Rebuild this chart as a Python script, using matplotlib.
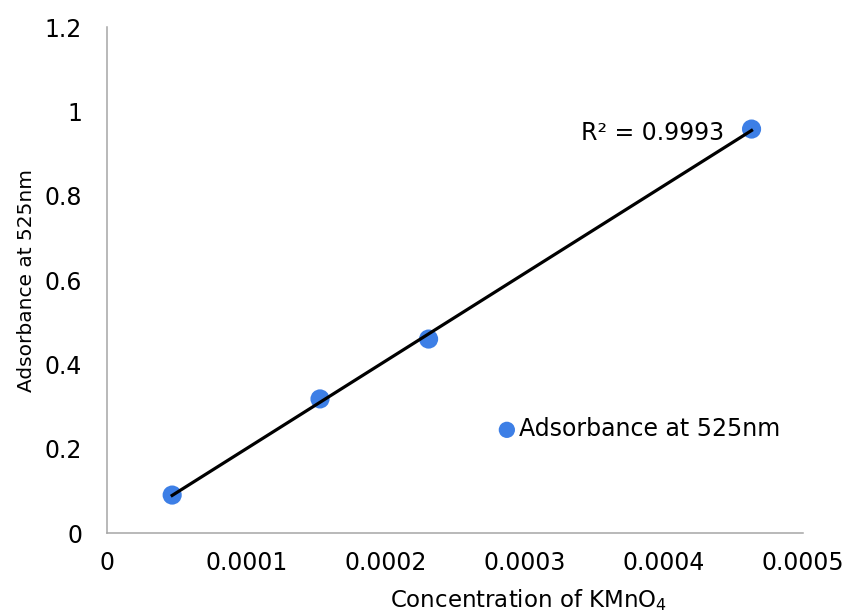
import numpy as np
import matplotlib.pyplot as plt

plt.rcParams['font.family'] = ['DejaVu Sans']

# data
conc = [0.0000468, 0.000153, 0.000231, 0.000463]
absorb = [0.090, 0.318, 0.460, 0.958]
r2_label = "R² = 0.9993"
series_name = "Adsorbance at 525nm"
x_ticks = [0, 0.0001, 0.0002, 0.0003, 0.0004, 0.0005]
x_labels = ["0", "0.0001", "0.0002", "0.0003", "0.0004", "0.0005"]
y_ticks = [0, 0.2, 0.4, 0.6, 0.8, 1.0, 1.2]
y_labels = ["0", "0.2", "0.4", "0.6", "0.8", "1", "1.2"]

fig = plt.figure(figsize=(8.48, 6.14), dpi=100)
ax = fig.add_axes([0.1262, 0.1319, 0.8208, 0.8241])

ax.scatter(conc, absorb, s=190, color="#3d7fe6", zorder=2,
           label=series_name, edgecolors="none")

# linear trendline over the data range
slope, icpt = np.polyfit(conc, absorb, 1)
xs = np.array([conc[0], conc[-1]])
ax.plot(xs, slope * xs + icpt, color="black", linewidth=2.3, zorder=3)

ax.text(conc[-1] - 0.0000194, absorb[-1] - 0.009, r2_label,
        ha="right", va="center", fontsize=17)

ax.set_xlim(0, 0.0005)
ax.set_ylim(0, 1.2)
ax.set_xticks(x_ticks)
ax.set_xticklabels(x_labels)
ax.set_yticks(y_ticks)
ax.set_yticklabels(y_labels)
ax.tick_params(length=0, labelsize=17)
ax.tick_params(axis="x", pad=13)
ax.tick_params(axis="y", pad=18)

for s in ["top", "right"]:
    ax.spines[s].set_visible(False)
for s in ["left", "bottom"]:
    ax.spines[s].set_color("#a6a6a6")
    ax.spines[s].set_linewidth(1.1)

fig.text(529 / 848, 7 / 614, "Concentration of KMnO$_4$", fontsize=16.5,
         ha="center", va="baseline")
ax.set_ylabel(series_name, fontsize=14.5, labelpad=6)

ax.legend(loc="center left", bbox_to_anchor=(0.5575, 0.2055), frameon=False,
          fontsize=17, handlelength=1.0, handletextpad=0.0, borderpad=0,
          borderaxespad=0, markerscale=0.85)

fig.savefig("out.png", dpi=100)
